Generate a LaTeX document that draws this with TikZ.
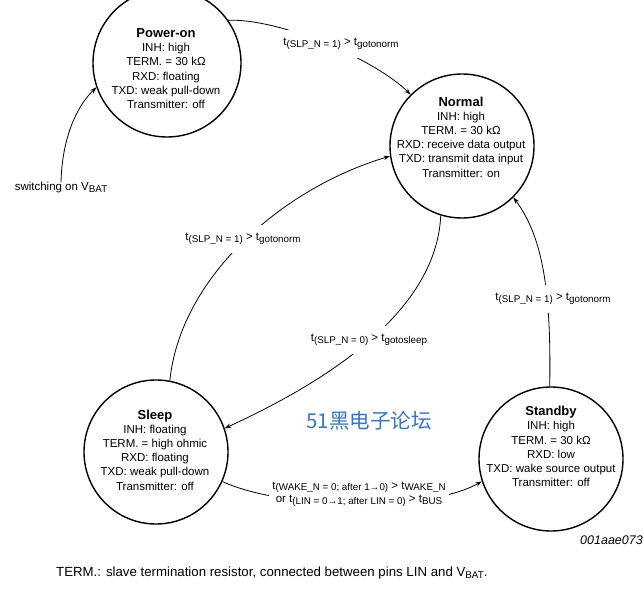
\documentclass[tikz,border=0pt]{standalone}
\usepackage{fontspec}
\setmainfont{Liberation Sans}
\newfontfamily\cjk{Noto Sans CJK SC}
\usetikzlibrary{arrows.meta}
\definecolor{wmblue}{RGB}{52,118,212}
\newcommand{\sbs}[1]{\raisebox{-0.3ex}{\fontsize{9.8}{10}\selectfont #1}}
\newcommand{\sttl}[1]{{\fontsize{13}{14.2}\selectfont\bfseries #1}}
\begin{document}
\begin{tikzpicture}[x=1pt,y=1pt,
  state/.style={circle, draw, line width=1.4pt, minimum size=144pt, inner sep=0pt},
  stxt/.style={align=center, inner sep=0pt, font=\fontsize{11.5}{14.2}\selectfont},
  conn/.style={line width=0.8pt, -{Stealth[length=6.5pt,width=4.5pt]}},
  lbl/.style={fill=white, inner xsep=3pt, inner ysep=8pt, align=center, font=\fontsize{11.5}{13.5}\selectfont},
  plain/.style={inner sep=0pt, font=\fontsize{11.5}{13.5}\selectfont},
]
\clip (0,0) rectangle (644,589);
\fill[white] (0,0) rectangle (644,589);

% states
\node[state, minimum size=148pt] (pon) at (167,526) {};
\node[state] (nor) at (462,443) {};
\node[state] (slp) at (156,137) {};
\node[state] (stb) at (551,130) {};

\node[stxt] (pont) at (166,520.5) {\sttl{Power-on}\\INH: high\\TERM. = 30 kΩ\\RXD: floating\\TXD: weak pull-down\\Transmitter: off};
\node[stxt] (nort) at (461,452) {\sttl{Normal}\\INH: high\\TERM. = 30 kΩ\\RXD: receive data output\\TXD: transmit data input\\Transmitter: on};
\node[stxt] (slpt) at (155,139) {\sttl{Sleep}\\INH: floating\\TERM. = high ohmic\\RXD: floating\\TXD: weak pull-down\\Transmitter: off};
\node[stxt] (stbt) at (551,142.5) {\sttl{Standby}\\INH: high\\TERM. = 30 kΩ\\RXD: low\\TXD: wake source output\\Transmitter: off};

% entry label
\node[plain] (sw) at (61,401) {switching on V\sbs{BAT}};

% connectors
\draw[conn] (sw.north) .. controls (62,450) and (76,482) .. (pon.199);
\draw[conn] (pon.35) .. controls (285,570) and (378,527) .. (nor.135);
\draw[conn] (nor.253) .. controls (436,270) and (310,200) .. (slp.19);
\draw[conn] (slp.79) .. controls (180,310) and (280,400) .. (nor.188);
\draw[conn] (stb.91) .. controls (551,290) and (545,349) .. (nor.315);
\draw[conn] (slp.336) .. controls (282,80) and (425,76) .. (stb.198);

% transition labels
\node[lbl] (l1) at (341,545) {t\sbs{(SLP\_N = 1)} > t\sbs{gotonorm}};
\node[lbl] (l2) at (243,350) {t\sbs{(SLP\_N = 1)} > t\sbs{gotonorm}};
\node[lbl] (l3) at (369,249) {t\sbs{(SLP\_N = 0)} > t\sbs{gotosleep}};
\node[lbl] (l4) at (553,290) {t\sbs{(SLP\_N = 1)} > t\sbs{gotonorm}};
\node[lbl] (l5) at (359,95) {t\sbs{(WAKE\_N = 0; after 1→0)} > t\sbs{WAKE\_N}\\or t\sbs{(LIN = 0→1; after LIN = 0)} > t\sbs{BUS}};

% footnote, id, watermark
\node[plain, anchor=west, font=\fontsize{13.25}{15}\selectfont] (foot) at (56,16) {TERM.: slave termination resistor, connected between pins LIN and V\sbs{BAT}.};
\node[plain, anchor=west, font=\fontsize{12.5}{13}\selectfont\itshape] (fig) at (580,49) {001aae073};
\node[inner sep=0pt, text=wmblue, font=\cjk\fontsize{20.5}{22}\selectfont] (wm) at (369,168) {51黑电子论坛};
\end{tikzpicture}
\end{document}
